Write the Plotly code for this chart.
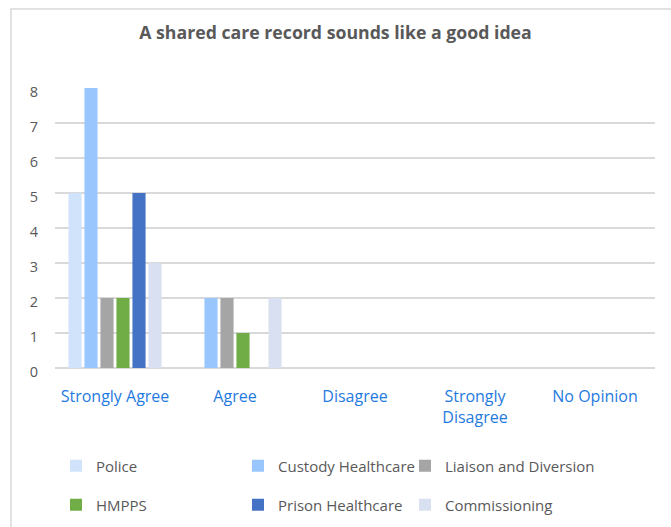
import plotly.graph_objects as go

categories = ["Strongly Agree", "Agree", "Disagree", "Strongly<br>Disagree", "No Opinion"]
series_names = ["Police", "Custody Healthcare", "Liaison and Diversion", "HMPPS", "Prison Healthcare", "Commissioning"]
police = [5, 0, 0, 0, 0]
custody = [8, 2, 0, 0, 0]
liaison = [2, 2, 0, 0, 0]
hmpps = [2, 1, 0, 0, 0]
prison = [5, 0, 0, 0, 0]
commissioning = [3, 2, 0, 0, 0]
colors = ["#d0e3fb", "#99c7fd", "#a5a5a5", "#70ad47", "#4472c4", "#d8e0f1"]
values = [police, custody, liaison, hmpps, prison, commissioning]

W, H = 671, 527
L, R, T, B = 55, 16, 88, 159
pw, ph = W - L - R, H - T - B

font = "Open Sans, Liberation Sans, sans-serif"
legend_names = ["legend", "legend2", "legend3", "legend4", "legend5", "legend6"]
# legend anchor positions (container pixels): text starts ~41px right of x
leg_x = [56, 238, 405, 56, 238, 405]
leg_y = [466, 466, 466, 505, 505, 505]

fig = go.Figure()
for i, (name, vals, col) in enumerate(zip(series_names, values, colors)):
    fig.add_trace(go.Bar(
        x=categories, y=vals, name=name, marker_color=col, marker_line_width=0,
        legend=legend_names[i], showlegend=True,
    ))

layout_legends = {}
for i, ln in enumerate(legend_names):
    layout_legends[ln] = dict(
        xref="container", yref="container",
        x=leg_x[i] / W, y=1 - leg_y[i] / H, xanchor="left", yanchor="middle",
        font=dict(family=font, size=15, color="#595959"),
        itemwidth=30, bgcolor="rgba(0,0,0,0)",
    )

fig.update_layout(
    width=W, height=H, showlegend=True,
    margin=dict(l=L, r=R, t=T, b=B, autoexpand=False),
    paper_bgcolor="white", plot_bgcolor="white",
    barmode="group", bargap=0.2, bargroupgap=0.18,
    title=dict(text="<b>A shared care record sounds like a good idea</b>",
               x=0.5, xanchor="center", y=1 - 33 / H, yanchor="middle",
               font=dict(family=font, size=17.7, color="#595959")),
    xaxis=dict(tickfont=dict(family=font, size=16, color="#1f7ae0"),
               showgrid=False, showline=False, ticks="", automargin=False,
               ticklabelstandoff=17),
    yaxis=dict(range=[0, 8], dtick=1, tickfont=dict(family=font, size=14.5, color="#595959"),
               gridcolor="#d9d9d9", gridwidth=1.5, zeroline=True, zerolinecolor="#d9d9d9",
               zerolinewidth=1.5, showline=False, ticklabelstandoff=16, automargin=False,
               ticklabelshift=4),
    shapes=[dict(type="rect", xref="paper", yref="paper",
                 x0=(11 - L) / pw, x1=(W + 5 - L) / pw,
                 y0=-(B + 5) / ph, y1=1 + (T - 9) / ph,
                 line=dict(color="#d9d9d9", width=1.5), fillcolor="rgba(0,0,0,0)")],
    **layout_legends,
)
fig.write_html("out.html", config={"displayModeBar": False},
               post_script="document.body.style.margin='0';")
